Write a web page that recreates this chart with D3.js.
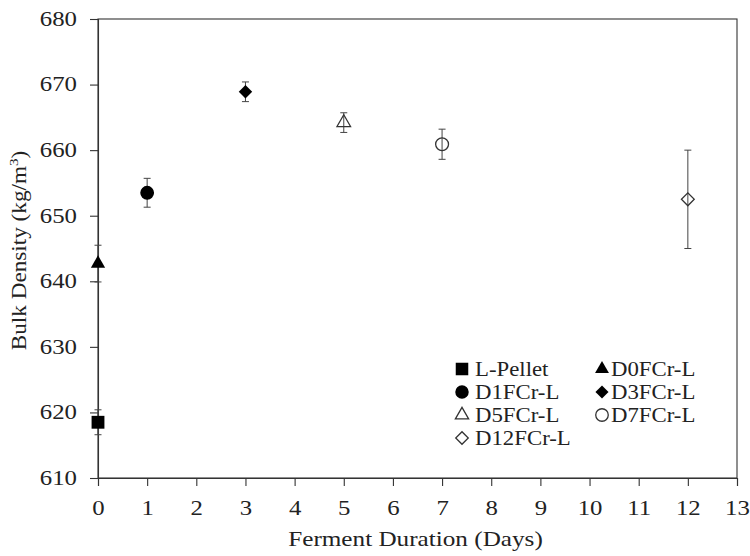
<!DOCTYPE html>
<html>
<head>
<meta charset="utf-8">
<script src="https://cdn.jsdelivr.net/npm/d3@7"></script>
<style>
  body { margin: 0; background: #fff; }
  svg text { font-family: "Liberation Serif", "Times New Roman", serif; fill: #222; }
</style>
</head>
<body>
<div id="chart"></div>
<script>
// data
var samples = ["L-Pellet", "D0FCr-L", "D1FCr-L", "D3FCr-L", "D5FCr-L", "D7FCr-L", "D12FCr-L"];
var days = [0, 0, 1, 3, 5, 7, 12];
var density = [618.5, 642.7, 653.5, 668.9, 664.2, 660.9, 652.5];
var errors = [1.9, 2.8, 2.2, 1.5, 1.5, 2.3, 7.5];
var shapes = ["square", "triangle", "circle", "diamond", "triangle", "circle", "diamond"];
var filled = [true, true, true, true, false, false, false];
var xTicks = d3.range(0, 14);
var yTicks = [610, 620, 630, 640, 650, 660, 670, 680];

var margin = {top: 19, right: 13, bottom: 78, left: 98},
  width = 750 - margin.left - margin.right,
  height = 556 - margin.top - margin.bottom;

// the original text is a wide Times face, so stretch it a bit
var stretch = 1.24;

var svg = d3.select("#chart").append("svg")
  .attr("width", 750)
  .attr("height", 556)
  .append("g")
  .attr("transform", "translate(" + margin.left + "," + margin.top + ")");

var x = d3.scaleLinear().domain([0, 13]).range([0, width]);
var y = d3.scaleLinear().domain([610, 680]).range([height, 0]);

// frame
svg.append("rect")
  .attr("width", width).attr("height", height)
  .attr("fill", "none").attr("stroke", "#333").attr("stroke-width", 1.1);

var gX = svg.append("g")
  .attr("transform", "translate(0," + height + ")")
  .call(d3.axisBottom(x).tickValues(xTicks).tickSize(8).tickPadding(15));
var gY = svg.append("g")
  .call(d3.axisLeft(y).tickValues(yTicks).tickSize(8).tickPadding(11));

[gX, gY].forEach(function(g) {
  g.attr("font-family", null);
  g.select(".domain").attr("stroke", "#333").attr("stroke-width", 1.1);
  g.selectAll(".tick line").attr("stroke", "#333").attr("stroke-width", 1.1);
  g.selectAll(".tick text").style("font-size", "20px").attr("fill", "#222");
});
gX.selectAll(".tick text").attr("transform", "scale(" + stretch + ",1)");
gY.selectAll(".tick text")
  .attr("x", 0)
  .attr("transform", "translate(-21,0) scale(" + stretch + ",1)");

svg.append("text")
  .attr("transform", "translate(" + (width / 2 - 2) + "," + (height + 68) + ") scale(1.26,1)")
  .attr("text-anchor", "middle")
  .style("font-size", "20px")
  .text("Ferment Duration (Days)");

var yl = svg.append("text")
  .attr("transform", "translate(-72," + (height / 2 + 2) + ") rotate(-90) scale(1.16,1)")
  .attr("text-anchor", "middle")
  .style("font-size", "20px");
yl.append("tspan").text("Bulk Density (kg/m");
yl.append("tspan").attr("dy", -8).style("font-size", "13px").text("3");
yl.append("tspan").attr("dy", 8).text(")");

var symbolType = {
  square: d3.symbolSquare,
  triangle: d3.symbolTriangle,
  circle: d3.symbolCircle,
  diamond: d3.symbolSquare
};
var bigSize = {square: 165, triangle: 88, circle: 150, diamond: 90};
var smallSize = {square: 120, triangle: 80, circle: 130, diamond: 82};

var pts = samples.map(function(s, i) {
  return {name: s, day: days[i], val: density[i], err: errors[i], shape: shapes[i], fill: filled[i]};
});

// error bars
var eb = svg.selectAll(".err").data(pts).enter().append("g").attr("class", "err")
  .attr("stroke", "#444").attr("stroke-width", 1);
eb.append("line")
  .attr("x1", d => x(d.day)).attr("x2", d => x(d.day))
  .attr("y1", d => y(d.val - d.err)).attr("y2", d => y(d.val + d.err));
eb.append("line")
  .attr("x1", d => x(d.day) - 3.5).attr("x2", d => x(d.day) + 3.5)
  .attr("y1", d => y(d.val - d.err)).attr("y2", d => y(d.val - d.err));
eb.append("line")
  .attr("x1", d => x(d.day) - 3.5).attr("x2", d => x(d.day) + 3.5)
  .attr("y1", d => y(d.val + d.err)).attr("y2", d => y(d.val + d.err));

// markers
function drawMarker(sel, d, scale) {
  var size = (d.fill ? bigSize : smallSize)[d.shape] * scale;
  sel.append("path")
    .attr("d", d3.symbol().type(symbolType[d.shape]).size(size))
    .attr("transform", d.shape == "diamond" ? "rotate(45)" : null)
    .attr("fill", "#fff")
    .attr("fill-opacity", d.fill ? 1 : 0)
    .style("fill", d.fill ? "#000" : null)
    .attr("stroke", d.fill ? "#000" : "#333")
    .attr("stroke-width", d.fill ? 0 : 1.3);
}

svg.selectAll(".pt").data(pts).enter().append("g").attr("class", "pt")
  .attr("transform", d => "translate(" + x(d.day) + "," + y(d.val) + ")")
  .each(function(d) { drawMarker(d3.select(this), d, 1); });

// legend, two columns
var legend = svg.append("g").attr("transform", "translate(" + (462 - margin.left) + "," + (369 - margin.top) + ")");
pts.forEach(function(d, i) {
  var col = i % 2, row = Math.floor(i / 2);
  var item = legend.append("g")
    .attr("transform", "translate(" + (col * 140) + "," + (row * 23) + ")");
  drawMarker(item, d, 0.95);
  item.append("text")
    .attr("transform", "translate(" + (col ? 9 : 13) + ",0) scale(1.14,1)")
    .attr("dy", "0.35em")
    .style("font-size", "20px")
    .text(d.name);
});
</script>
</body>
</html>
